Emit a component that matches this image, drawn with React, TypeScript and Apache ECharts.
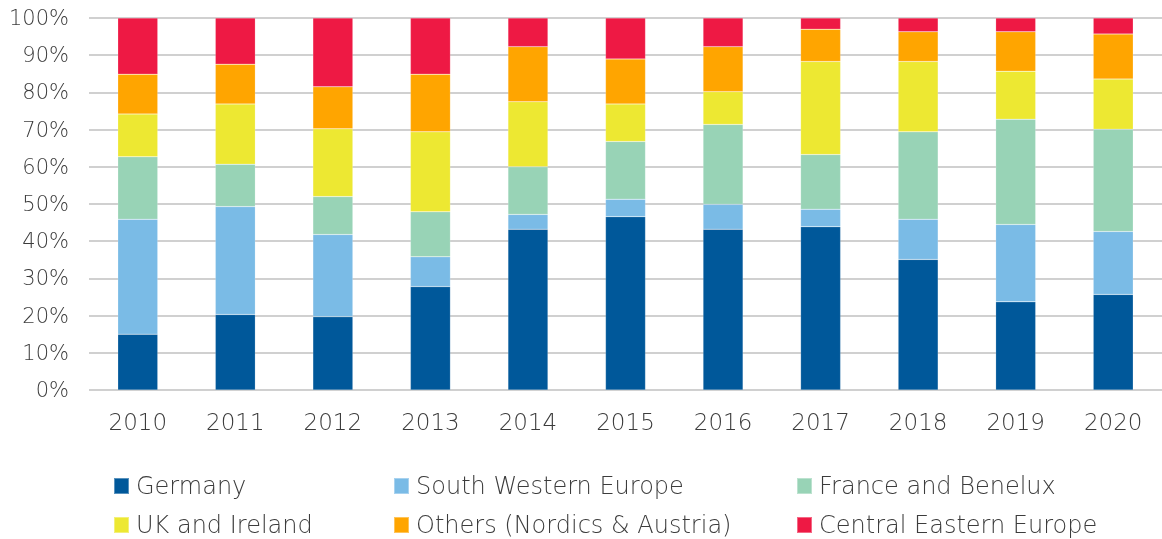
import React, { useEffect, useRef } from "react";
import * as echarts from "echarts";

const years = ["2010", "2011", "2012", "2013", "2014", "2015", "2016", "2017", "2018", "2019", "2020"];
const germany = [15.0, 20.3, 19.7, 27.8, 43.2, 46.6, 43.2, 43.9, 35.1, 23.7, 25.7];
const southWestern = [30.9, 29.0, 22.1, 8.0, 4.0, 4.7, 6.7, 4.7, 10.8, 20.8, 16.9];
const franceBenelux = [16.8, 11.4, 10.2, 12.1, 12.8, 15.5, 21.5, 14.7, 23.5, 28.3, 27.5];
const ukIreland = [11.5, 16.2, 18.2, 21.5, 17.5, 10.1, 8.8, 25.0, 18.9, 12.9, 13.5];
const others = [10.7, 10.7, 11.3, 15.5, 14.8, 12.1, 12.1, 8.7, 8.0, 10.6, 12.1];
const centralEastern = [15.1, 12.4, 18.5, 15.1, 7.7, 11.0, 7.7, 3.0, 3.7, 3.7, 4.3];

const seriesNames = [
  "Germany",
  "South Western Europe",
  "France and Benelux",
  "UK and Ireland",
  "Others (Nordics & Austria)",
  "Central Eastern Europe",
];
const seriesData = [germany, southWestern, franceBenelux, ukIreland, others, centralEastern];
const colors = ["#00589A", "#7ABBE6", "#98D3B6", "#EDE832", "#FFA500", "#EE1944"];

const FONT = "'DejaVu Sans ExtraLight', 'DejaVu Sans Light', 'DejaVu Sans', sans-serif";
const TXT = "#3C3C3C";

export default function App() {
  const ref = useRef<HTMLDivElement>(null);
  useEffect(() => {
    if (!ref.current) return;
    const chart = echarts.init(ref.current, null, { renderer: "svg" });
    const legendLefts = [113, 393, 796, 113, 393, 796];
    const legendTops = [474, 474, 474, 513, 513, 513];
    const legends = seriesNames.map((name, i) => ({
      data: [name],
      left: legendLefts[i],
      top: legendTops[i],
      padding: 0,
      itemWidth: 15,
      itemHeight: 16,
      icon: "rect",
      textStyle: { fontFamily: FONT, fontSize: 24, fontWeight: 300, color: TXT, padding: [0, 0, 0, 2] },
    }));
    chart.setOption({
      animation: false,
      color: colors,
      grid: { left: 89, right: 0, top: 18, bottom: 149, containLabel: false },
      xAxis: {
        type: "category",
        data: years,
        axisLine: { show: false },
        axisTick: { show: false },
        axisLabel: { fontFamily: FONT, fontSize: 23, fontWeight: 300, color: TXT, margin: 20 },
      },
      yAxis: {
        type: "value",
        min: 0,
        max: 100,
        interval: 10,
        axisLine: { show: false },
        axisTick: { show: false },
        splitLine: { lineStyle: { color: "#D0D0D0", width: 2 } },
        axisLabel: {
          formatter: "{value}%",
          fontFamily: FONT,
          fontSize: 21,
          fontWeight: 300,
          color: TXT,
          margin: 20,
        },
      },
      legend: legends,
      series: seriesNames.map((name, i) => ({
        name,
        type: "bar",
        stack: "total",
        barWidth: 40,
        data: seriesData[i],
        itemStyle: { borderColor: "rgba(255,255,255,0.35)", borderWidth: 0.5 },
      })),
    });
    return () => chart.dispose();
  }, []);
  return <div ref={ref} style={{ position: "fixed", left: 0, top: 0, width: 1162, height: 539 }} />;
}
